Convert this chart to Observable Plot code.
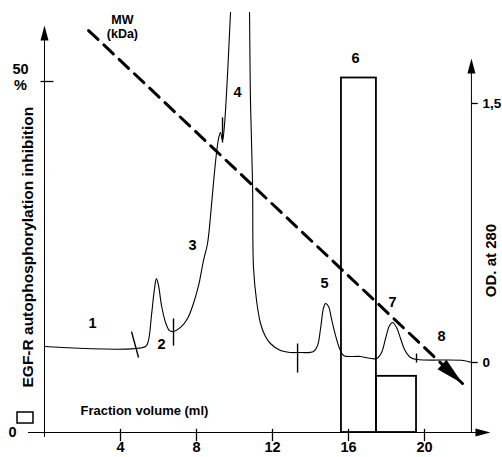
<!DOCTYPE html>
<html>
<head>
<meta charset="utf-8">
<script src="https://cdn.jsdelivr.net/npm/d3@7"></script>
<script src="https://cdn.jsdelivr.net/npm/@observablehq/plot@0.6"></script>
<style>
  html, body { margin: 0; padding: 0; background: #fff; }
  svg { overflow: visible; }
</style>
</head>
<body>
<div id="chart"></div>
<script>
// ---- data ----
const xTicks = [4, 8, 12, 16, 20];
const xTickLabels = ["4", "8", "12", "16", "20"];
const leftTicks = [0, 50];
const leftTickLabels = ["0", "50\n%"];
const odTicks = [0, 1.5];
const odTickLabels = ["0", "1,5"];

// EGF-R autophosphorylation inhibition bars (%)
const barX1 = [15.63, 17.47];
const barX2 = [17.47, 19.58];
const barValue = [50.5, 8];

// OD at 280 elution profile
const curveX = [0, 5.32, 5.47, 5.63, 5.79, 5.89, 6.0, 6.16, 6.37, 6.58, 6.79, 7.16, 7.53, 7.84, 8.11, 8.37, 8.58, 8.74, 8.89, 9.05, 9.16, 9.26, 9.37, 9.47, 9.63, 9.79, 10.1, 10.37, 10.63, 10.79, 10.84, 10.95, 11.0, 11.16, 11.37, 11.63, 11.89, 12.42, 12.95, 13.32, 14.16, 14.37, 14.53, 14.68, 14.79, 14.95, 15.1, 15.32, 15.53, 15.74, 16.63, 17.47, 17.74, 17.95, 18.16, 18.32, 18.53, 18.74, 18.95, 19.26, 19.63, 22.05, 22.47];
const curveOD = [0.093, 0.093, 0.127, 0.272, 0.428, 0.486, 0.446, 0.33, 0.232, 0.185, 0.18, 0.203, 0.255, 0.342, 0.446, 0.591, 0.689, 0.851, 1.036, 1.21, 1.297, 1.332, 1.285, 1.372, 1.662, 2.027, 2.675, 3.08, 2.675, 2.027, 1.517, 1.036, 0.55, 0.359, 0.226, 0.15, 0.11, 0.069, 0.058, 0.058, 0.064, 0.098, 0.197, 0.313, 0.342, 0.324, 0.255, 0.156, 0.081, 0.041, 0.035, 0.023, 0.058, 0.139, 0.214, 0.232, 0.203, 0.139, 0.075, 0.029, 0.017, 0.012, 0];

// fraction dividers on the OD trace
const divX1 = [4.58, 6.79, 9.37, 13.32, 19.58];
const divX2 = [4.95, 6.79, 9.37, 13.32, 19.58];
const divOD1 = [0.179, 0.255, 1.419, 0.110, 0.052];
const divOD2 = [0.029, 0.098, 1.274, -0.058, 0.0];

// fraction numbers
const fracLabels = ["1", "2", "3", "4", "5", "6", "7", "8"];
const fracX = [2.53, 6.16, 7.79, 10.16, 14.74, 16.37, 18.32, 20.89];
const fracY = [15.53, 12.54, 26.64, 48.43, 21.23, 53.28, 18.52, 13.68];

// MW (kDa) trend arrow
const mwX = [2.32, 22.0];
const mwY = [57.26, 6.98];

// ---- helpers ----
const odToPct = od => 9.97 + od * 24.6;
const curve = curveX.map((x, i) => ({x, od: curveOD[i]}));
const bars = barX1.map((x1, i) => ({x1, x2: barX2[i], v: barValue[i]}));
const dividers = divX1.map((x1, i) => ({x1, x2: divX2[i], y1: odToPct(divOD1[i]), y2: odToPct(divOD2[i])}));
const fracs = fracLabels.map((t, i) => ({t, x: fracX[i], y: fracY[i]}));
const mw = mwX.map((x, i) => ({x, y: mwY[i]}));
const left = leftTicks.map((v, i) => ({v, t: leftTickLabels[i]}));
const rightX = 22.47;

const arrowSmall = {draw(ctx) { ctx.moveTo(0, 0); ctx.lineTo(4, 15); ctx.lineTo(-4, 15); ctx.closePath(); }};
const arrowBig = {draw(ctx) { ctx.moveTo(0, 0); ctx.lineTo(6.5, 28); ctx.lineTo(-6.5, 28); ctx.closePath(); }};

const font = "'Liberation Sans', Arial, Helvetica, sans-serif";

const chart = Plot.plot({
  width: 502,
  height: 457,
  marginLeft: 44,
  marginRight: 31,
  marginTop: 12,
  marginBottom: 25,
  x: {domain: [0, 20], range: [44, 424], axis: null},
  y: {domain: [0, 50], range: [432, 81], axis: null},
  style: {fontFamily: font, background: "#fff", color: "#000"},
  marks: [
    // bars
    Plot.rect(bars, {x1: "x1", x2: "x2", y1: 0, y2: "v", fill: "none", stroke: "#000", strokeWidth: 1.8}),
    // legend box
    Plot.rect([{x1: -1.42, x2: -0.58, y1: 1.28, y2: 2.85}], {x1: "x1", x2: "x2", y1: "y1", y2: "y2", fill: "none", stroke: "#000", strokeWidth: 1.5}),
    // OD trace
    Plot.line(curve, {x: "x", y: d => odToPct(d.od), stroke: "#000", strokeWidth: 1.1, curve: "catmull-rom", clip: "frame"}),
    Plot.link(dividers, {x1: "x1", x2: "x2", y1: "y1", y2: "y2", stroke: "#000", strokeWidth: 1.4}),
    // axes
    Plot.ruleX([0], {y1: -0.7, y2: 56}),
    Plot.ruleY([0], {x1: -0.84, x2: 23.0}),
    Plot.ruleX([rightX], {y1: 0, y2: 51.5}),
    Plot.ruleX(xTicks, {y1: 0.45, y2: -1.3, strokeWidth: 1.3}),
    Plot.link([50], {x1: -0.21, x2: 0.47, y1: d => d, y2: d => d, stroke: "#000", strokeWidth: 1.3}),
    Plot.link(odTicks, {x1: rightX, x2: 22.8, y1: d => odToPct(d), y2: d => odToPct(d), stroke: "#000", strokeWidth: 1.3}),
    Plot.dot([{x: 0, y: 57.98, r: 0}, {x: rightX, y: 53.28, r: 0}, {x: 23.47, y: 0, r: 90}], {x: "x", y: "y", rotate: "r", symbol: arrowSmall, fill: "#000", stroke: "none", r: 5}),
    // MW arrow
    Plot.line(mw, {x: "x", y: "y", stroke: "#000", strokeWidth: 3, strokeDasharray: "13,8"}),
    Plot.dot([mw[1]], {x: "x", y: "y", rotate: 133, symbol: arrowBig, fill: "#000", stroke: "none", r: 5}),
    Plot.text(["MW\n(kDa)"], {x: 4.1, y: 57.8, text: d => d, fontSize: 12.5, fontWeight: "bold", lineHeight: 1.05}),
    // tick labels
    Plot.text(xTicks, {x: d => d, y: 0, text: (d, i) => xTickLabels[i], dy: 15, fontSize: 14.5, fontWeight: "bold"}),
    Plot.text(left.filter(d => d.v === 0), {x: 0, y: "v", text: "t", dx: -32, fontSize: 14.5, fontWeight: "bold"}),
    Plot.text(left.filter(d => d.v !== 0), {x: 0, y: "v", text: "t", dx: -24, dy: -5, fontSize: 14.5, fontWeight: "bold", lineHeight: 1.15}),
    Plot.text(odTicks, {x: rightX, y: d => odToPct(d), text: (d, i) => odTickLabels[i], dx: 11, textAnchor: "start", fontSize: 13.5, fontWeight: "bold"}),
    // fraction numbers
    Plot.text(fracs, {x: "x", y: "y", text: "t", fontSize: 14.5, fontWeight: "bold"}),
    // titles
    Plot.text(["EGF-R autophosphorylation inhibition"], {x: -0.89, y: 26.4, text: d => d, rotate: -90, fontSize: 15.5, fontWeight: "bold"}),
    Plot.text(["OD. at 280"], {x: 23.53, y: 24.5, text: d => d, rotate: -90, fontSize: 15, fontWeight: "bold"}),
    Plot.text(["Fraction volume (ml)"], {x: 5.26, y: 3.13, text: d => d, fontSize: 13, fontWeight: "bold"})
  ]
});
document.getElementById("chart").appendChild(chart);
</script>
</body>
</html>
